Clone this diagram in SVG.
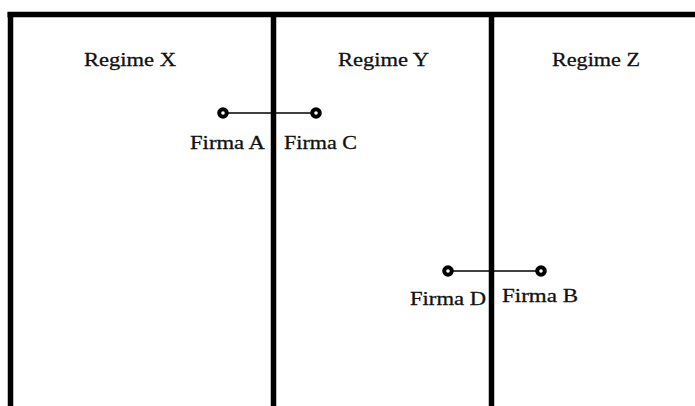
<svg xmlns="http://www.w3.org/2000/svg" width="695" height="406" viewBox="0 0 695 406">
<style>
.wall{stroke:#000;stroke-width:5.5;fill:none}
.lbl{font-family:"Liberation Serif","DejaVu Serif",serif;font-size:19px;fill:#111;stroke:#111;stroke-width:0.3}
.dot{fill:#fff;stroke:#000;stroke-width:4}
.link{stroke:#000;stroke-width:1.3}
</style>
<rect width="695" height="406" fill="#fff"/>
<g id="walls">
<line class="wall" x1="7.5" y1="14.5" x2="695" y2="14.5"/>
<line class="wall" x1="10.5" y1="12" x2="10.5" y2="406"/>
<line class="wall" x1="273.5" y1="12" x2="273.5" y2="406"/>
<line class="wall" x1="491.5" y1="12" x2="491.5" y2="406"/>
</g>
<g id="regimes">
<text class="lbl" x="84" y="66" textLength="92" lengthAdjust="spacingAndGlyphs">Regime X</text>
<text class="lbl" x="338" y="66" textLength="91" lengthAdjust="spacingAndGlyphs">Regime Y</text>
<text class="lbl" x="552" y="66" textLength="88" lengthAdjust="spacingAndGlyphs">Regime Z</text>
</g>
<g id="connectors">
<line class="link" x1="223" y1="113" x2="316" y2="113"/>
<line class="link" x1="448" y1="271" x2="541" y2="271"/>
</g>
<g id="firmaA">
<circle class="dot" cx="223" cy="113" r="3.8"/>
<text class="lbl" x="190" y="149" textLength="75" lengthAdjust="spacingAndGlyphs">Firma A</text>
</g>
<g id="firmaC">
<circle class="dot" cx="316" cy="113" r="3.8"/>
<text class="lbl" x="284" y="149" textLength="73" lengthAdjust="spacingAndGlyphs">Firma C</text>
</g>
<g id="firmaD">
<circle class="dot" cx="448" cy="271" r="3.8"/>
<text class="lbl" x="410" y="305" textLength="76" lengthAdjust="spacingAndGlyphs">Firma D</text>
</g>
<g id="firmaB">
<circle class="dot" cx="541" cy="271" r="3.8"/>
<text class="lbl" x="502" y="302" textLength="76" lengthAdjust="spacingAndGlyphs">Firma B</text>
</g>
</svg>
